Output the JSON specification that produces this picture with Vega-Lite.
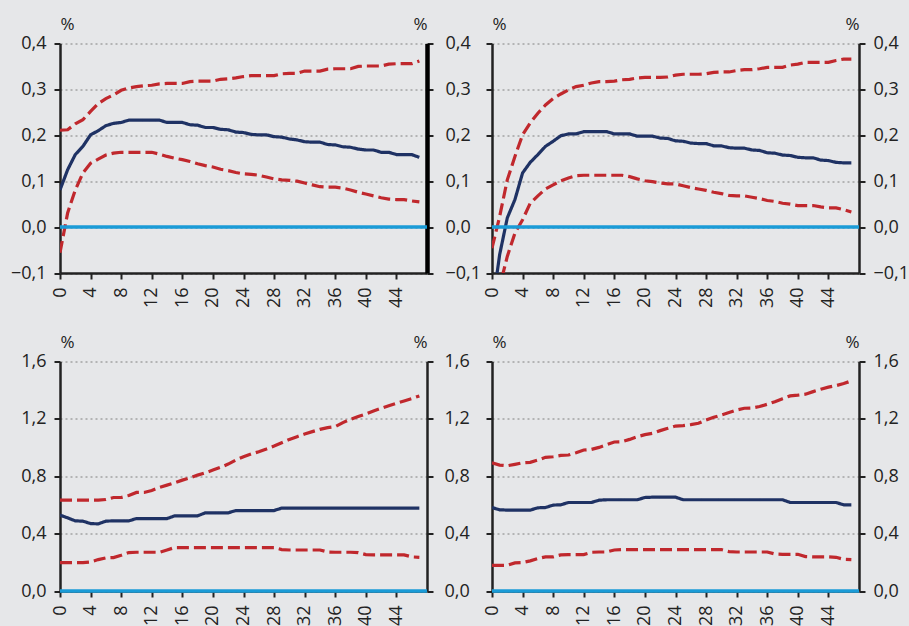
{
  "$schema": "https://vega.github.io/schema/vega-lite/v6.json",
  "background": "#e6e7e9",
  "padding": {"left": 10, "top": 15.5, "right": 5, "bottom": 5},
  "columns": 2,
  "spacing": {"row": 88, "column": 65},
  "bounds": "flush",
  "config": {
    "font": "Open Sans",
    "view": {"stroke": null},
    "locale": {"number": {"decimal": ",", "thousands": " ", "grouping": [3], "currency": ["", " €"]}},
    "axis": {"labelFont": "Open Sans", "titleFont": "Open Sans", "labelColor": "#222", "titleColor": "#222", "labelFontSize": 18, "titleFontSize": 17, "titleFontWeight": "normal", "domainColor": "#222", "domainWidth": 2.5, "tickColor": "#222", "tickWidth": 2, "tickSize": 6, "labelPadding": 8}
  },
  "datasets": {
    "zero": [{"z": 0}],
    "irf": [
      {"p":"a","t":0,"lo":-0.056,"mid":0.081,"hi":0.211},
      {"p":"a","t":1,"lo":0.031,"mid":0.125,"hi":0.212},
      {"p":"a","t":2,"lo":0.081,"mid":0.158,"hi":0.225},
      {"p":"a","t":3,"lo":0.118,"mid":0.176,"hi":0.234},
      {"p":"a","t":4,"lo":0.139,"mid":0.201,"hi":0.252},
      {"p":"a","t":5,"lo":0.148,"mid":0.21,"hi":0.269},
      {"p":"a","t":6,"lo":0.157,"mid":0.221,"hi":0.28},
      {"p":"a","t":7,"lo":0.161,"mid":0.226,"hi":0.288},
      {"p":"a","t":8,"lo":0.163,"mid":0.228,"hi":0.298},
      {"p":"a","t":9,"lo":0.163,"mid":0.233,"hi":0.303},
      {"p":"a","t":10,"lo":0.163,"mid":0.233,"hi":0.306},
      {"p":"a","t":11,"lo":0.163,"mid":0.233,"hi":0.308},
      {"p":"a","t":12,"lo":0.163,"mid":0.233,"hi":0.309},
      {"p":"a","t":13,"lo":0.159,"mid":0.233,"hi":0.312},
      {"p":"a","t":14,"lo":0.154,"mid":0.228,"hi":0.313},
      {"p":"a","t":15,"lo":0.15,"mid":0.228,"hi":0.313},
      {"p":"a","t":16,"lo":0.147,"mid":0.228,"hi":0.313},
      {"p":"a","t":17,"lo":0.143,"mid":0.223,"hi":0.317},
      {"p":"a","t":18,"lo":0.138,"mid":0.222,"hi":0.318},
      {"p":"a","t":19,"lo":0.134,"mid":0.217,"hi":0.318},
      {"p":"a","t":20,"lo":0.131,"mid":0.217,"hi":0.318},
      {"p":"a","t":21,"lo":0.126,"mid":0.213,"hi":0.322},
      {"p":"a","t":22,"lo":0.123,"mid":0.212,"hi":0.323},
      {"p":"a","t":23,"lo":0.119,"mid":0.207,"hi":0.325},
      {"p":"a","t":24,"lo":0.116,"mid":0.206,"hi":0.328},
      {"p":"a","t":25,"lo":0.115,"mid":0.202,"hi":0.33},
      {"p":"a","t":26,"lo":0.113,"mid":0.201,"hi":0.33},
      {"p":"a","t":27,"lo":0.109,"mid":0.201,"hi":0.33},
      {"p":"a","t":28,"lo":0.105,"mid":0.197,"hi":0.33},
      {"p":"a","t":29,"lo":0.103,"mid":0.196,"hi":0.334},
      {"p":"a","t":30,"lo":0.102,"mid":0.192,"hi":0.335},
      {"p":"a","t":31,"lo":0.1,"mid":0.19,"hi":0.335},
      {"p":"a","t":32,"lo":0.096,"mid":0.186,"hi":0.34},
      {"p":"a","t":33,"lo":0.092,"mid":0.185,"hi":0.34},
      {"p":"a","t":34,"lo":0.088,"mid":0.185,"hi":0.34},
      {"p":"a","t":35,"lo":0.087,"mid":0.18,"hi":0.344},
      {"p":"a","t":36,"lo":0.087,"mid":0.179,"hi":0.345},
      {"p":"a","t":37,"lo":0.085,"mid":0.175,"hi":0.345},
      {"p":"a","t":38,"lo":0.081,"mid":0.174,"hi":0.345},
      {"p":"a","t":39,"lo":0.076,"mid":0.17,"hi":0.35},
      {"p":"a","t":40,"lo":0.072,"mid":0.168,"hi":0.351},
      {"p":"a","t":41,"lo":0.068,"mid":0.168,"hi":0.351},
      {"p":"a","t":42,"lo":0.064,"mid":0.163,"hi":0.351},
      {"p":"a","t":43,"lo":0.061,"mid":0.163,"hi":0.355},
      {"p":"a","t":44,"lo":0.06,"mid":0.158,"hi":0.356},
      {"p":"a","t":45,"lo":0.06,"mid":0.158,"hi":0.356},
      {"p":"a","t":46,"lo":0.057,"mid":0.158,"hi":0.356},
      {"p":"a","t":47,"lo":0.055,"mid":0.152,"hi":0.362},
      {"p":"b","t":0,"lo":-0.22,"mid":-0.18,"hi":-0.046},
      {"p":"b","t":1,"lo":-0.13,"mid":-0.06,"hi":0.023},
      {"p":"b","t":2,"lo":-0.064,"mid":0.02,"hi":0.103},
      {"p":"b","t":3,"lo":-0.013,"mid":0.06,"hi":0.154},
      {"p":"b","t":4,"lo":0.016,"mid":0.118,"hi":0.201},
      {"p":"b","t":5,"lo":0.052,"mid":0.141,"hi":0.227},
      {"p":"b","t":6,"lo":0.068,"mid":0.158,"hi":0.248},
      {"p":"b","t":7,"lo":0.083,"mid":0.176,"hi":0.266},
      {"p":"b","t":8,"lo":0.092,"mid":0.187,"hi":0.28},
      {"p":"b","t":9,"lo":0.101,"mid":0.199,"hi":0.29},
      {"p":"b","t":10,"lo":0.107,"mid":0.203,"hi":0.299},
      {"p":"b","t":11,"lo":0.112,"mid":0.203,"hi":0.306},
      {"p":"b","t":12,"lo":0.113,"mid":0.208,"hi":0.309},
      {"p":"b","t":13,"lo":0.113,"mid":0.208,"hi":0.314},
      {"p":"b","t":14,"lo":0.113,"mid":0.208,"hi":0.317},
      {"p":"b","t":15,"lo":0.113,"mid":0.208,"hi":0.317},
      {"p":"b","t":16,"lo":0.113,"mid":0.203,"hi":0.318},
      {"p":"b","t":17,"lo":0.113,"mid":0.203,"hi":0.321},
      {"p":"b","t":18,"lo":0.11,"mid":0.203,"hi":0.322},
      {"p":"b","t":19,"lo":0.105,"mid":0.198,"hi":0.325},
      {"p":"b","t":20,"lo":0.101,"mid":0.198,"hi":0.326},
      {"p":"b","t":21,"lo":0.099,"mid":0.198,"hi":0.326},
      {"p":"b","t":22,"lo":0.096,"mid":0.194,"hi":0.326},
      {"p":"b","t":23,"lo":0.094,"mid":0.193,"hi":0.327},
      {"p":"b","t":24,"lo":0.094,"mid":0.188,"hi":0.331},
      {"p":"b","t":25,"lo":0.09,"mid":0.187,"hi":0.333},
      {"p":"b","t":26,"lo":0.086,"mid":0.183,"hi":0.333},
      {"p":"b","t":27,"lo":0.083,"mid":0.182,"hi":0.333},
      {"p":"b","t":28,"lo":0.08,"mid":0.182,"hi":0.334},
      {"p":"b","t":29,"lo":0.076,"mid":0.177,"hi":0.337},
      {"p":"b","t":30,"lo":0.073,"mid":0.177,"hi":0.338},
      {"p":"b","t":31,"lo":0.069,"mid":0.173,"hi":0.338},
      {"p":"b","t":32,"lo":0.068,"mid":0.172,"hi":0.341},
      {"p":"b","t":33,"lo":0.068,"mid":0.172,"hi":0.343},
      {"p":"b","t":34,"lo":0.065,"mid":0.168,"hi":0.343},
      {"p":"b","t":35,"lo":0.062,"mid":0.167,"hi":0.345},
      {"p":"b","t":36,"lo":0.058,"mid":0.162,"hi":0.348},
      {"p":"b","t":37,"lo":0.056,"mid":0.161,"hi":0.348},
      {"p":"b","t":38,"lo":0.052,"mid":0.157,"hi":0.348},
      {"p":"b","t":39,"lo":0.05,"mid":0.156,"hi":0.353},
      {"p":"b","t":40,"lo":0.047,"mid":0.152,"hi":0.355},
      {"p":"b","t":41,"lo":0.047,"mid":0.151,"hi":0.359},
      {"p":"b","t":42,"lo":0.047,"mid":0.151,"hi":0.359},
      {"p":"b","t":43,"lo":0.044,"mid":0.146,"hi":0.359},
      {"p":"b","t":44,"lo":0.042,"mid":0.145,"hi":0.359},
      {"p":"b","t":45,"lo":0.042,"mid":0.141,"hi":0.363},
      {"p":"b","t":46,"lo":0.038,"mid":0.14,"hi":0.366},
      {"p":"b","t":47,"lo":0.033,"mid":0.14,"hi":0.366},
      {"p":"c","t":0,"lo":0.198,"mid":0.529,"hi":0.633},
      {"p":"c","t":1,"lo":0.198,"mid":0.51,"hi":0.633},
      {"p":"c","t":2,"lo":0.198,"mid":0.489,"hi":0.633},
      {"p":"c","t":3,"lo":0.198,"mid":0.487,"hi":0.633},
      {"p":"c","t":4,"lo":0.203,"mid":0.47,"hi":0.633},
      {"p":"c","t":5,"lo":0.219,"mid":0.468,"hi":0.633},
      {"p":"c","t":6,"lo":0.231,"mid":0.487,"hi":0.638},
      {"p":"c","t":7,"lo":0.233,"mid":0.489,"hi":0.652},
      {"p":"c","t":8,"lo":0.249,"mid":0.489,"hi":0.652},
      {"p":"c","t":9,"lo":0.268,"mid":0.489,"hi":0.666},
      {"p":"c","t":10,"lo":0.27,"mid":0.505,"hi":0.687},
      {"p":"c","t":11,"lo":0.27,"mid":0.505,"hi":0.687},
      {"p":"c","t":12,"lo":0.27,"mid":0.505,"hi":0.701},
      {"p":"c","t":13,"lo":0.27,"mid":0.505,"hi":0.722},
      {"p":"c","t":14,"lo":0.286,"mid":0.505,"hi":0.738},
      {"p":"c","t":15,"lo":0.303,"mid":0.524,"hi":0.755},
      {"p":"c","t":16,"lo":0.303,"mid":0.524,"hi":0.773},
      {"p":"c","t":17,"lo":0.303,"mid":0.524,"hi":0.789},
      {"p":"c","t":18,"lo":0.303,"mid":0.524,"hi":0.808},
      {"p":"c","t":19,"lo":0.303,"mid":0.545,"hi":0.824},
      {"p":"c","t":20,"lo":0.303,"mid":0.545,"hi":0.843},
      {"p":"c","t":21,"lo":0.303,"mid":0.545,"hi":0.862},
      {"p":"c","t":22,"lo":0.303,"mid":0.545,"hi":0.885},
      {"p":"c","t":23,"lo":0.303,"mid":0.561,"hi":0.913},
      {"p":"c","t":24,"lo":0.303,"mid":0.561,"hi":0.936},
      {"p":"c","t":25,"lo":0.303,"mid":0.561,"hi":0.955},
      {"p":"c","t":26,"lo":0.303,"mid":0.561,"hi":0.971},
      {"p":"c","t":27,"lo":0.303,"mid":0.561,"hi":0.99},
      {"p":"c","t":28,"lo":0.303,"mid":0.561,"hi":1.011},
      {"p":"c","t":29,"lo":0.289,"mid":0.578,"hi":1.034},
      {"p":"c","t":30,"lo":0.286,"mid":0.578,"hi":1.057},
      {"p":"c","t":31,"lo":0.286,"mid":0.578,"hi":1.076},
      {"p":"c","t":32,"lo":0.286,"mid":0.578,"hi":1.095},
      {"p":"c","t":33,"lo":0.286,"mid":0.578,"hi":1.111},
      {"p":"c","t":34,"lo":0.286,"mid":0.578,"hi":1.127},
      {"p":"c","t":35,"lo":0.272,"mid":0.578,"hi":1.139},
      {"p":"c","t":36,"lo":0.27,"mid":0.578,"hi":1.146},
      {"p":"c","t":37,"lo":0.27,"mid":0.578,"hi":1.174},
      {"p":"c","t":38,"lo":0.27,"mid":0.578,"hi":1.197},
      {"p":"c","t":39,"lo":0.268,"mid":0.578,"hi":1.216},
      {"p":"c","t":40,"lo":0.254,"mid":0.578,"hi":1.234},
      {"p":"c","t":41,"lo":0.252,"mid":0.578,"hi":1.255},
      {"p":"c","t":42,"lo":0.252,"mid":0.578,"hi":1.274},
      {"p":"c","t":43,"lo":0.252,"mid":0.578,"hi":1.292},
      {"p":"c","t":44,"lo":0.252,"mid":0.578,"hi":1.309},
      {"p":"c","t":45,"lo":0.252,"mid":0.578,"hi":1.325},
      {"p":"c","t":46,"lo":0.238,"mid":0.578,"hi":1.341},
      {"p":"c","t":47,"lo":0.235,"mid":0.578,"hi":1.36},
      {"p":"d","t":0,"lo":0.179,"mid":0.582,"hi":0.894},
      {"p":"d","t":1,"lo":0.179,"mid":0.566,"hi":0.878},
      {"p":"d","t":2,"lo":0.179,"mid":0.564,"hi":0.873},
      {"p":"d","t":3,"lo":0.196,"mid":0.564,"hi":0.883},
      {"p":"d","t":4,"lo":0.198,"mid":0.564,"hi":0.894},
      {"p":"d","t":5,"lo":0.21,"mid":0.564,"hi":0.897},
      {"p":"d","t":6,"lo":0.226,"mid":0.58,"hi":0.913},
      {"p":"d","t":7,"lo":0.238,"mid":0.582,"hi":0.932},
      {"p":"d","t":8,"lo":0.238,"mid":0.599,"hi":0.936},
      {"p":"d","t":9,"lo":0.252,"mid":0.601,"hi":0.945},
      {"p":"d","t":10,"lo":0.254,"mid":0.617,"hi":0.948},
      {"p":"d","t":11,"lo":0.254,"mid":0.617,"hi":0.964},
      {"p":"d","t":12,"lo":0.254,"mid":0.617,"hi":0.983},
      {"p":"d","t":13,"lo":0.27,"mid":0.617,"hi":0.987},
      {"p":"d","t":14,"lo":0.272,"mid":0.633,"hi":1.001},
      {"p":"d","t":15,"lo":0.272,"mid":0.636,"hi":1.02},
      {"p":"d","t":16,"lo":0.286,"mid":0.636,"hi":1.039},
      {"p":"d","t":17,"lo":0.289,"mid":0.636,"hi":1.041},
      {"p":"d","t":18,"lo":0.289,"mid":0.636,"hi":1.057},
      {"p":"d","t":19,"lo":0.289,"mid":0.636,"hi":1.076},
      {"p":"d","t":20,"lo":0.289,"mid":0.652,"hi":1.09},
      {"p":"d","t":21,"lo":0.289,"mid":0.654,"hi":1.099},
      {"p":"d","t":22,"lo":0.289,"mid":0.654,"hi":1.118},
      {"p":"d","t":23,"lo":0.289,"mid":0.654,"hi":1.134},
      {"p":"d","t":24,"lo":0.289,"mid":0.654,"hi":1.15},
      {"p":"d","t":25,"lo":0.289,"mid":0.636,"hi":1.153},
      {"p":"d","t":26,"lo":0.289,"mid":0.636,"hi":1.16},
      {"p":"d","t":27,"lo":0.289,"mid":0.636,"hi":1.169},
      {"p":"d","t":28,"lo":0.289,"mid":0.636,"hi":1.192},
      {"p":"d","t":29,"lo":0.289,"mid":0.636,"hi":1.211},
      {"p":"d","t":30,"lo":0.289,"mid":0.636,"hi":1.227},
      {"p":"d","t":31,"lo":0.275,"mid":0.636,"hi":1.244},
      {"p":"d","t":32,"lo":0.272,"mid":0.636,"hi":1.262},
      {"p":"d","t":33,"lo":0.272,"mid":0.636,"hi":1.274},
      {"p":"d","t":34,"lo":0.272,"mid":0.636,"hi":1.276},
      {"p":"d","t":35,"lo":0.272,"mid":0.636,"hi":1.286},
      {"p":"d","t":36,"lo":0.272,"mid":0.636,"hi":1.302},
      {"p":"d","t":37,"lo":0.258,"mid":0.636,"hi":1.32},
      {"p":"d","t":38,"lo":0.256,"mid":0.636,"hi":1.341},
      {"p":"d","t":39,"lo":0.256,"mid":0.617,"hi":1.36},
      {"p":"d","t":40,"lo":0.256,"mid":0.617,"hi":1.365},
      {"p":"d","t":41,"lo":0.24,"mid":0.617,"hi":1.372},
      {"p":"d","t":42,"lo":0.238,"mid":0.617,"hi":1.39},
      {"p":"d","t":43,"lo":0.238,"mid":0.617,"hi":1.407},
      {"p":"d","t":44,"lo":0.238,"mid":0.617,"hi":1.421},
      {"p":"d","t":45,"lo":0.235,"mid":0.617,"hi":1.432},
      {"p":"d","t":46,"lo":0.221,"mid":0.601,"hi":1.446},
      {"p":"d","t":47,"lo":0.219,"mid":0.601,"hi":1.465}
    ]
  },
  "concat": [
    {
      "width": 367, "height": 229.5,
      "layer": [
        {
          "data": {"name": "irf"},
          "transform": [{"filter": "datum.p === 'a'"}, {"fold": ["lo", "mid", "hi"], "as": ["s", "v"]}],
          "mark": {"type": "line", "clip": true, "strokeWidth": 3.2},
          "encoding": {
            "x": {"field": "t", "type": "quantitative", "scale": {"domain": [0, 48], "nice": false}, "axis": {"values": [0,4,8,12,16,20,24,28,32,36,40,44], "labelAngle": -90, "labelFlush": false, "labelOverlap": false, "title": null, "grid": false}},
            "y": {"field": "v", "type": "quantitative", "scale": {"domain": [-0.1, 0.4], "nice": false, "zero": false}, "axis": {"orient": "left", "values": [-0.1,0,0.1,0.2,0.3,0.4], "format": ".1f", "title": "%", "titleAngle": 0, "titleAlign": "left", "titleBaseline": "alphabetic", "titleX": 0, "titleY": -14, "grid": true, "gridDash": [2,3], "gridColor": "#808080", "gridWidth": 1}},
            "color": {"field": "s", "type": "nominal", "scale": {"domain": ["lo","mid","hi"], "range": ["#c0282d","#1f3264","#c0282d"]}, "legend": null},
            "strokeDash": {"field": "s", "type": "nominal", "scale": {"domain": ["lo","mid","hi"], "range": [[12,5],[1,0],[12,5]]}, "legend": null}
          }
        },
        {
          "data": {"name": "zero"},
          "mark": {"type": "rule", "color": "#1a9bd7", "strokeWidth": 3.5},
          "encoding": {"y": {"field": "z", "type": "quantitative", "scale": {"domain": [-0.1, 0.4], "nice": false, "zero": false}, "axis": {"orient": "right", "values": [-0.1,0,0.1,0.2,0.3,0.4], "format": ".1f", "title": "%", "titleAngle": 0, "titleAlign": "right", "titleBaseline": "alphabetic", "titleX": 0, "titleY": -14, "grid": false, "domainColor": "#000", "domainWidth": 4.5, "labelPadding": 12}}}
        }
      ],
      "resolve": {"axis": {"y": "independent"}}
    },
    {
      "width": 367, "height": 229.5,
      "layer": [
        {
          "data": {"name": "irf"},
          "transform": [{"filter": "datum.p === 'b'"}, {"fold": ["lo", "mid", "hi"], "as": ["s", "v"]}],
          "mark": {"type": "line", "clip": true, "strokeWidth": 3.2},
          "encoding": {
            "x": {"field": "t", "type": "quantitative", "scale": {"domain": [0, 48], "nice": false}, "axis": {"values": [0,4,8,12,16,20,24,28,32,36,40,44], "labelAngle": -90, "labelFlush": false, "labelOverlap": false, "title": null, "grid": false}},
            "y": {"field": "v", "type": "quantitative", "scale": {"domain": [-0.1, 0.4], "nice": false, "zero": false}, "axis": {"orient": "left", "values": [-0.1,0,0.1,0.2,0.3,0.4], "labels": false, "title": "%", "titleAngle": 0, "titleAlign": "left", "titleBaseline": "alphabetic", "titleX": 0, "titleY": -14, "grid": true, "gridDash": [2,3], "gridColor": "#808080", "gridWidth": 1}},
            "color": {"field": "s", "type": "nominal", "scale": {"domain": ["lo","mid","hi"], "range": ["#c0282d","#1f3264","#c0282d"]}, "legend": null},
            "strokeDash": {"field": "s", "type": "nominal", "scale": {"domain": ["lo","mid","hi"], "range": [[12,5],[1,0],[12,5]]}, "legend": null}
          }
        },
        {
          "data": {"name": "zero"},
          "mark": {"type": "rule", "color": "#1a9bd7", "strokeWidth": 3.5},
          "encoding": {"y": {"field": "z", "type": "quantitative", "scale": {"domain": [-0.1, 0.4], "nice": false, "zero": false}, "axis": {"orient": "right", "values": [-0.1,0,0.1,0.2,0.3,0.4], "format": ".1f", "title": "%", "titleAngle": 0, "titleAlign": "right", "titleBaseline": "alphabetic", "titleX": 0, "titleY": -14, "grid": false}}}
        }
      ],
      "resolve": {"axis": {"y": "independent"}}
    },
    {
      "width": 367, "height": 229.5,
      "layer": [
        {
          "data": {"name": "irf"},
          "transform": [{"filter": "datum.p === 'c'"}, {"fold": ["lo", "mid", "hi"], "as": ["s", "v"]}],
          "mark": {"type": "line", "clip": true, "strokeWidth": 3.2},
          "encoding": {
            "x": {"field": "t", "type": "quantitative", "scale": {"domain": [0, 48], "nice": false}, "axis": {"values": [0,4,8,12,16,20,24,28,32,36,40,44], "labelAngle": -90, "labelFlush": false, "labelOverlap": false, "title": null, "grid": false}},
            "y": {"field": "v", "type": "quantitative", "scale": {"domain": [0, 1.6], "nice": false}, "axis": {"orient": "left", "values": [0,0.4,0.8,1.2,1.6], "format": ".1f", "title": "%", "titleAngle": 0, "titleAlign": "left", "titleBaseline": "alphabetic", "titleX": 0, "titleY": -14, "grid": true, "gridDash": [2,3], "gridColor": "#808080", "gridWidth": 1}},
            "color": {"field": "s", "type": "nominal", "scale": {"domain": ["lo","mid","hi"], "range": ["#c0282d","#1f3264","#c0282d"]}, "legend": null},
            "strokeDash": {"field": "s", "type": "nominal", "scale": {"domain": ["lo","mid","hi"], "range": [[12,5],[1,0],[12,5]]}, "legend": null}
          }
        },
        {
          "data": {"name": "zero"},
          "mark": {"type": "rule", "color": "#1a9bd7", "strokeWidth": 3.5},
          "encoding": {"y": {"field": "z", "type": "quantitative", "scale": {"domain": [0, 1.6], "nice": false}, "axis": {"orient": "right", "values": [0,0.4,0.8,1.2,1.6], "format": ".1f", "title": "%", "titleAngle": 0, "titleAlign": "right", "titleBaseline": "alphabetic", "titleX": 0, "titleY": -14, "grid": false, "labelPadding": 11}}}
        }
      ],
      "resolve": {"axis": {"y": "independent"}}
    },
    {
      "width": 367, "height": 229.5,
      "layer": [
        {
          "data": {"name": "irf"},
          "transform": [{"filter": "datum.p === 'd'"}, {"fold": ["lo", "mid", "hi"], "as": ["s", "v"]}],
          "mark": {"type": "line", "clip": true, "strokeWidth": 3.2},
          "encoding": {
            "x": {"field": "t", "type": "quantitative", "scale": {"domain": [0, 48], "nice": false}, "axis": {"values": [0,4,8,12,16,20,24,28,32,36,40,44], "labelAngle": -90, "labelFlush": false, "labelOverlap": false, "title": null, "grid": false}},
            "y": {"field": "v", "type": "quantitative", "scale": {"domain": [0, 1.6], "nice": false}, "axis": {"orient": "left", "values": [0,0.4,0.8,1.2,1.6], "labels": false, "title": "%", "titleAngle": 0, "titleAlign": "left", "titleBaseline": "alphabetic", "titleX": 0, "titleY": -14, "grid": true, "gridDash": [2,3], "gridColor": "#808080", "gridWidth": 1}},
            "color": {"field": "s", "type": "nominal", "scale": {"domain": ["lo","mid","hi"], "range": ["#c0282d","#1f3264","#c0282d"]}, "legend": null},
            "strokeDash": {"field": "s", "type": "nominal", "scale": {"domain": ["lo","mid","hi"], "range": [[12,5],[1,0],[12,5]]}, "legend": null}
          }
        },
        {
          "data": {"name": "zero"},
          "mark": {"type": "rule", "color": "#1a9bd7", "strokeWidth": 3.5},
          "encoding": {"y": {"field": "z", "type": "quantitative", "scale": {"domain": [0, 1.6], "nice": false}, "axis": {"orient": "right", "values": [0,0.4,0.8,1.2,1.6], "format": ".1f", "title": "%", "titleAngle": 0, "titleAlign": "right", "titleBaseline": "alphabetic", "titleX": 0, "titleY": -14, "grid": false}}}
        }
      ],
      "resolve": {"axis": {"y": "independent"}}
    }
  ]
}
